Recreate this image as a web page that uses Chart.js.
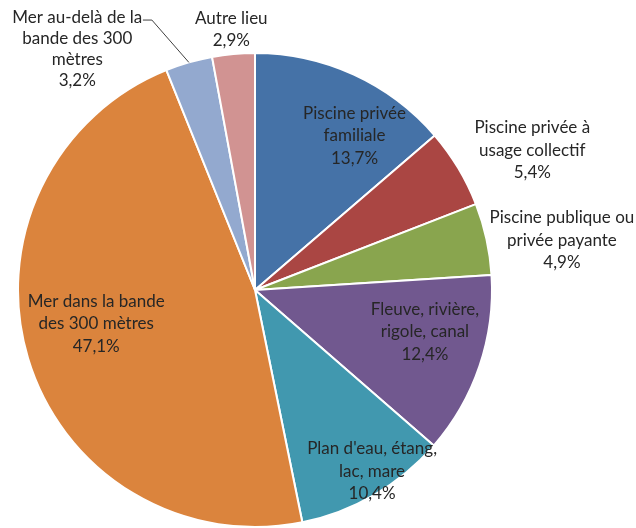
<!DOCTYPE html>
<html>
<head>
<meta charset="utf-8">
<script src="https://cdn.jsdelivr.net/npm/chart.js@4/dist/chart.umd.min.js"></script>
<style>
html,body{margin:0;padding:0;background:#fff;}
#wrap{width:636px;height:528px;position:relative;}
</style>
</head>
<body>
<div id="wrap"><canvas id="c"></canvas></div>
<script>
// Categories (label lines as shown in the chart)
const categories = [
  ["Piscine privée", "familiale"],
  ["Piscine privée à", "usage collectif"],
  ["Piscine publique ou", "privée payante"],
  ["Fleuve, rivière,", "rigole, canal"],
  ["Plan d'eau, étang,", "lac, mare"],
  ["Mer dans la bande", "des 300 mètres"],
  ["Mer au-delà de la", "bande des 300", "mètres"],
  ["Autre lieu"]
];
// Percentages
const values = [13.7, 5.4, 4.9, 12.4, 10.4, 47.1, 3.2, 2.9];
const colors = ["#4572A7", "#AA4643", "#89A54E", "#71588F", "#4198AF", "#DB843D", "#93A9CF", "#D19392"];

// label centres relative to pie centre, in units of radius (layout only)
const labelPos = [
  [0.42, -0.65], [1.17, -0.59], [1.295, -0.21], [0.717, 0.177],
  [0.494, 0.764], [-0.67, 0.143], [-0.75, -1.015], [-0.10, -1.099]
];

const labelPlugin = {
  id: 'pieLabels',
  afterDatasetsDraw(chart) {
    const ctx = chart.ctx;
    const meta = chart.getDatasetMeta(0);
    ctx.save();
    ctx.font = '17px Lato, "Open Sans", sans-serif';
    ctx.fillStyle = '#262626';
    ctx.textAlign = 'center';
    ctx.textBaseline = 'middle';
    meta.data.forEach((arc, i) => {
      const lh = i === 6 ? 21 : 22.5;
      const r = arc.outerRadius;
      const cx = arc.x + labelPos[i][0] * r;
      const cy = arc.y + labelPos[i][1] * r;
      const lines = categories[i].concat([values[i].toFixed(1).replace('.', ',') + '%']);
      const y0 = cy - (lines.length - 1) * lh / 2;
      lines.forEach((t, k) => ctx.fillText(t, cx, y0 + k * lh));
    });
    // leader line for slice 6
    const a = meta.data[6];
    const mid = (a.startAngle + a.endAngle) / 2;
    const r = a.outerRadius;
    ctx.strokeStyle = '#404040';
    ctx.lineWidth = 1;
    ctx.beginPath();
    ctx.moveTo(a.x + Math.cos(mid) * r, a.y + Math.sin(mid) * r);
    ctx.lineTo(a.x - 0.435 * r, a.y - 1.139 * r);
    ctx.lineTo(a.x - 0.473 * r, a.y - 1.139 * r);
    ctx.stroke();
    ctx.restore();
  }
};

new Chart(document.getElementById('c'), {
  type: 'pie',
  data: {
    labels: categories.map(l => l.join(' ')),
    datasets: [{
      data: values,
      backgroundColor: colors,
      borderColor: '#ffffff',
      borderWidth: 2
    }]
  },
  options: {
    responsive: true,
    maintainAspectRatio: false,
    animation: false,
    layout: { padding: { left: 17, top: 52, right: 143, bottom: 0 } },
    plugins: {
      legend: { display: false },
      tooltip: { enabled: false }
    }
  },
  plugins: [labelPlugin]
});
</script>
</body>
</html>
